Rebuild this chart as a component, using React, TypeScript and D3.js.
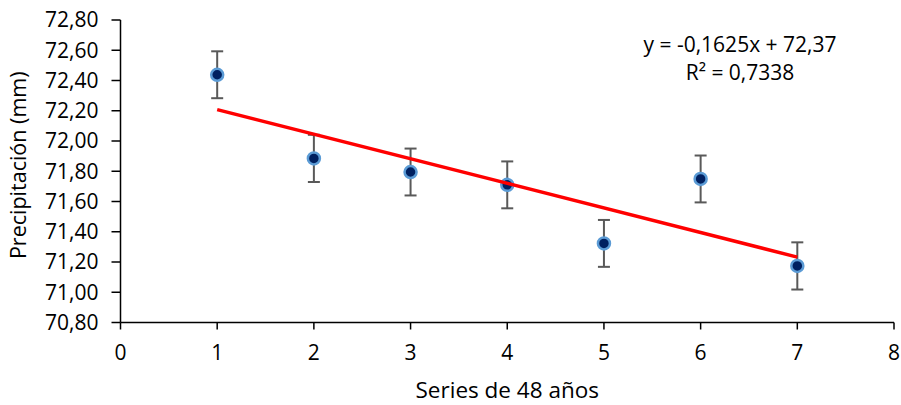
import * as d3 from "d3";

// Values
const series = [1, 2, 3, 4, 5, 6, 7];
const precip = [72.438, 71.885, 71.795, 71.71, 71.323, 71.749, 71.174];
const errorSize = [0.155, 0.156, 0.155, 0.155, 0.155, 0.155, 0.156];
const xTicks = [0, 1, 2, 3, 4, 5, 6, 7, 8];
const yTicks = [70.8, 71.0, 71.2, 71.4, 71.6, 71.8, 72.0, 72.2, 72.4, 72.6, 72.8];
const trend = { slope: -0.1625, intercept: 72.37 };
const equationLines = ["y = -0,1625x + 72,37", "R² = 0,7338"];

const W = 901;
const H = 405;
const FONT = "'Open Sans', 'Noto Sans', sans-serif";

export default function App() {
  const x = d3.scaleLinear().domain([0, 8]).range([120.5, 894]);
  const y = d3.scaleLinear().domain([70.8, 72.8]).range([322.5, 20]);
  const fmt = (v: number) => v.toFixed(2).replace(".", ",");

  const trendLine = d3
    .line<number>()
    .x((d) => x(d))
    .y((d) => y(trend.slope * d + trend.intercept));

  return (
    <svg
      width={W}
      height={H}
      style={{ position: "absolute", left: 0, top: 0, background: "#fff" }}
      fontFamily={FONT}
    >
      {/* y axis */}
      <line x1={x(0)} x2={x(0)} y1={y(72.8)} y2={y(70.8)} stroke="#000" strokeWidth={1.5} />
      {yTicks.map((t) => (
        <g key={`y${t}`}>
          <line x1={x(0) - 9} x2={x(0)} y1={y(t)} y2={y(t)} stroke="#000" strokeWidth={1.5} />
          <text x={x(0) - 22} y={y(t)} dy="0.35em" textAnchor="end" style={{ fontSize: 21 }} fill="#000">
            {fmt(t)}
          </text>
        </g>
      ))}

      {/* x axis */}
      <line x1={x(0)} x2={x(8)} y1={y(70.8)} y2={y(70.8)} stroke="#000" strokeWidth={1.5} />
      {xTicks.map((t) => (
        <g key={`x${t}`}>
          <line x1={x(t)} x2={x(t)} y1={y(70.8)} y2={y(70.8) + 7} stroke="#000" strokeWidth={1.5} />
          <text x={x(t)} y={360} textAnchor="middle" style={{ fontSize: 21 }} fill="#000">
            {t}
          </text>
        </g>
      ))}

      {/* axis titles */}
      <text
        transform={`translate(26, ${y(71.8) - 6}) rotate(-90)`}
        textAnchor="middle"
        style={{ fontSize: 21.5 }}
        fill="#000"
      >
        Precipitación (mm)
      </text>
      <text x={x(4)} y={398} textAnchor="middle" style={{ fontSize: 22.5 }} fill="#000">
        Series de 48 años
      </text>

      {/* error bars */}
      {series.map((s, i) => {
        const top = y(precip[i] + errorSize[i]);
        const bot = y(precip[i] - errorSize[i]);
        return (
          <g key={`e${s}`} stroke="#595959" strokeWidth={2}>
            <line x1={x(s)} x2={x(s)} y1={top} y2={bot} />
            <line x1={x(s) - 6} x2={x(s) + 6} y1={top} y2={top} />
            <line x1={x(s) - 6} x2={x(s) + 6} y1={bot} y2={bot} />
          </g>
        );
      })}

      {/* points */}
      {series.map((s, i) => (
        <circle
          key={`p${s}`}
          cx={x(s)}
          cy={y(precip[i])}
          r={6}
          fill="#002060"
          stroke="#5B9BD5"
          strokeWidth={2.5}
        />
      ))}

      {/* linear trend */}
      <path d={trendLine([1, 7]) ?? ""} fill="none" stroke="#FF0000" strokeWidth={3.5} />

      {/* equation */}
      {equationLines.map((l, i) => (
        <text key={l} x={740} y={52 + i * 28} textAnchor="middle" style={{ fontSize: 21 }} fill="#000">
          {l}
        </text>
      ))}
    </svg>
  );
}
